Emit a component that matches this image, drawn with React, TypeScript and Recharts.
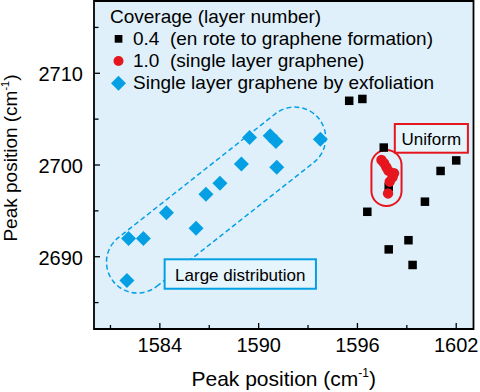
import React from "react";
import {
  ScatterChart,
  Scatter,
  XAxis,
  YAxis,
  ReferenceArea,
  Legend,
} from "recharts";

const FONT = "'Liberation Sans', Arial, Helvetica, sans-serif";
const BG = "#dff0fb";
const BOX_BG = "#e6f4fc";
const BLUE = "#05a0e4";
const RED = "#e5161e";

// Coverage 0.4 (en route to graphene formation)
const cov04X = [1595.5, 1596.3, 1597.6, 1602.0, 1601.05, 1600.1, 1596.6, 1597.9, 1599.1, 1597.9, 1599.35];
const cov04Y = [2707.0, 2707.2, 2701.9, 2700.5, 2699.35, 2696.0, 2694.9, 2697.6, 2691.8, 2690.8, 2689.1];

// Coverage 1.0 (single layer graphene)
const cov10X = [1597.46, 1597.62, 1597.76, 1597.88, 1598.22, 1598.13, 1597.96, 1597.86];
const cov10Y = [2700.55, 2700.2, 2699.75, 2699.38, 2699.1, 2698.66, 2698.18, 2696.9];

// Single layer graphene by exfoliation
const exfX = [1582.1, 1583.0, 1582.0, 1584.4, 1586.2, 1586.8, 1587.65, 1588.95, 1589.45, 1590.7, 1591.05, 1591.1, 1593.75];
const exfY = [2692.0, 2692.0, 2687.4, 2694.8, 2693.1, 2696.8, 2698.0, 2700.1, 2703.0, 2703.2, 2702.55, 2699.75, 2702.8];

const xTicks = [1581, 1584, 1587, 1590, 1593, 1596, 1599, 1602];
const xMajor = [1584, 1590, 1596, 1602];
const yTicks = [2685, 2690, 2695, 2700, 2705, 2710, 2715];
const yMajor = [2690, 2700, 2710];

const X_DOMAIN = [1580, 1603.05];
const Y_DOMAIN = [2682.12, 2717.88];

const legendTitle = "Coverage (layer number)";
const legendItems = [
  { name: "0.4  (en rote to graphene formation)", kind: "square" },
  { name: "1.0  (single layer graphene)", kind: "circle" },
  { name: "Single layer graphene by exfoliation", kind: "diamond" },
];

const toPoints = (xs: number[], ys: number[]) => xs.map((x, i) => ({ x, y: ys[i] }));

const Square = (p: any) => (
  <rect x={p.cx - 4.25} y={p.cy - 4.25} width={8.5} height={8.5} fill="#000" />
);
const Dot = (p: any) => <circle cx={p.cx} cy={p.cy} r={5.2} fill={RED} />;
const Diamond = (p: any) => (
  <polygon
    points={`${p.cx},${p.cy - 7.5} ${p.cx + 7.5},${p.cy} ${p.cx},${p.cy + 7.5} ${p.cx - 7.5},${p.cy}`}
    fill={BLUE}
  />
);

const XTick = (props: any) => {
  const { x, y, payload } = props;
  const major = xMajor.includes(payload.value);
  return (
    <g>
      <line x1={x} x2={x} y1={y} y2={y - (major ? 6 : 4)} stroke="#000" strokeWidth={1.3} />
      {major && (
        <text x={x} y={y + 22.5} textAnchor="middle" fontSize={20} fontFamily={FONT} fill="#000">
          {payload.value}
        </text>
      )}
    </g>
  );
};

const YTick = (props: any) => {
  const { x, y, payload } = props;
  const major = yMajor.includes(payload.value);
  return (
    <g>
      <line x1={x} x2={x + (major ? 6 : 4.5)} y1={y} y2={y} stroke="#000" strokeWidth={1.3} />
      {major && (
        <text x={x - 11} y={y + 8} textAnchor="end" fontSize={20} fontFamily={FONT} fill="#000">
          {payload.value}
        </text>
      )}
    </g>
  );
};

const XLabel = (props: any) => {
  const vb = props.viewBox || { x: 94, y: 329, width: 379.5, height: 63 };
  return (
    <text x={vb.x + vb.width / 2} y={vb.y + 57} textAnchor="middle" fontSize={21} fontFamily={FONT} fill="#000">
      Peak position (cm
      <tspan fontSize={12} dy={-9}>-1</tspan>
      <tspan dy={9}>)</tspan>
    </text>
  );
};

const YLabel = (props: any) => {
  const vb = props.viewBox || { x: 0, y: 1, width: 94, height: 328 };
  const cy = vb.y + vb.height / 2 - 7;
  return (
    <text
      transform={`translate(17, ${cy}) rotate(-90)`}
      textAnchor="middle"
      fontSize={19}
      fontFamily={FONT}
      fill="#000"
    >
      Peak position (cm
      <tspan fontSize={11} dy={-8}>-1</tspan>
      <tspan dy={8}>)</tspan>
    </text>
  );
};

// blue dashed stadium: drawn from the lower-left to upper-right end centres
const Capsule = (p: any) => {
  const r = 31;
  const x1 = p.x, y1 = p.y + p.height;
  const x2 = p.x + p.width, y2 = p.y;
  const len = Math.hypot(x2 - x1, y2 - y1);
  const ux = (x2 - x1) / len, uy = (y2 - y1) / len;
  const nx = -uy * r, ny = ux * r;
  const d = `M ${x1 + nx} ${y1 + ny} L ${x2 + nx} ${y2 + ny} A ${r} ${r} 0 0 0 ${x2 - nx} ${y2 - ny} L ${x1 - nx} ${y1 - ny} A ${r} ${r} 0 0 0 ${x1 + nx} ${y1 + ny} Z`;
  return <path d={d} fill="none" stroke={BLUE} strokeWidth={1.5} strokeDasharray="5 3" />;
};

const RoundBox = (p: any) => (
  <rect x={p.x} y={p.y} width={p.width} height={p.height} rx={p.width / 2} ry={p.width / 2}
    fill="none" stroke={RED} strokeWidth={2} />
);

const labelBox = (text: string, color: string) => (p: any) => (
  <g>
    <rect x={p.x} y={p.y} width={p.width} height={p.height} fill={BOX_BG} stroke={color} strokeWidth={2} />
    <text x={p.x + p.width / 2} y={p.y + p.height / 2 + 6.5} textAnchor="middle" fontSize={17} fontFamily={FONT} fill="#000">
      {text}
    </text>
  </g>
);

const LegendIcon = ({ kind }: { kind: string }) => (
  <svg width={17} height={22} style={{ verticalAlign: "top" }}>
    {kind === "square" && <rect x={4.7} y={7} width={7.7} height={7.7} fill="#000" />}
    {kind === "circle" && <circle cx={8.5} cy={11} r={5} fill={RED} />}
    {kind === "diamond" && <polygon points="8.5,3.8 16,11.3 8.5,18.8 1,11.3" fill={BLUE} />}
  </svg>
);

const LegendBox = () => (
  <div style={{ fontFamily: FONT, fontSize: 19, lineHeight: "22px", color: "#000", whiteSpace: "pre" }}>
    <div>{legendTitle}</div>
    {legendItems.map((it) => (
      <div key={it.name} style={{ height: 22 }}>
        <span style={{ display: "inline-block", width: 23, height: 22, verticalAlign: "top" }}>
          <LegendIcon kind={it.kind} />
        </span>
        <span>{it.name}</span>
      </div>
    ))}
  </div>
);

export default function App() {
  return (
    <div style={{ position: "absolute", left: 0, top: 0, width: 480, height: 392, background: "#fff" }}>
      <ScatterChart width={480} height={392} margin={{ top: 1, right: 6.5, bottom: 0, left: 0 }}>
        <XAxis
          type="number"
          dataKey="x"
          domain={X_DOMAIN}
          allowDataOverflow
          ticks={xTicks}
          interval={0}
          tick={<XTick />}
          tickLine={false}
          tickSize={0}
          tickMargin={0}
          axisLine={false}
          height={63}
          label={<XLabel />}
        />
        <YAxis
          type="number"
          dataKey="y"
          domain={Y_DOMAIN}
          allowDataOverflow
          ticks={yTicks}
          interval={0}
          tick={<YTick />}
          tickLine={false}
          tickSize={0}
          tickMargin={0}
          axisLine={false}
          width={94}
          label={<YLabel />}
        />
        <ReferenceArea x1={X_DOMAIN[0]} x2={X_DOMAIN[1]} y1={Y_DOMAIN[0]} y2={Y_DOMAIN[1]} fill={BG} fillOpacity={1} stroke="none" />
        <ReferenceArea x1={1582.64} x2={1592.19} y1={2689.42} y2={2702.94} shape={<Capsule />} />
        <ReferenceArea x1={1584.29} x2={1593.48} y1={2686.51} y2={2689.72} shape={labelBox("Large distribution", BLUE)} />
        <ReferenceArea x1={1596.85} x2={1598.68} y1={2695.53} y2={2701.64} shape={<RoundBox />} />
        <ReferenceArea x1={1598.27} x2={1602.71} y1={2701.34} y2={2704.47} shape={labelBox("Uniform", RED)} />
        <Scatter name="0.4" data={toPoints(cov04X, cov04Y)} shape={<Square />} isAnimationActive={false} />
        <Scatter name="1.0" data={toPoints(cov10X, cov10Y)} shape={<Dot />} isAnimationActive={false} />
        <Scatter name="exfoliation" data={toPoints(exfX, exfY)} shape={<Diamond />} isAnimationActive={false} />
        <ReferenceArea x1={X_DOMAIN[0]} x2={X_DOMAIN[1]} y1={Y_DOMAIN[0]} y2={Y_DOMAIN[1]} fill="none" stroke="#000" strokeWidth={1.8} />
        <Legend
          layout="vertical"
          align="center"
          verticalAlign="middle"
          wrapperStyle={{ left: 110, top: 6, width: 360 }}
          content={() => <LegendBox />}
        />
      </ScatterChart>
    </div>
  );
}
